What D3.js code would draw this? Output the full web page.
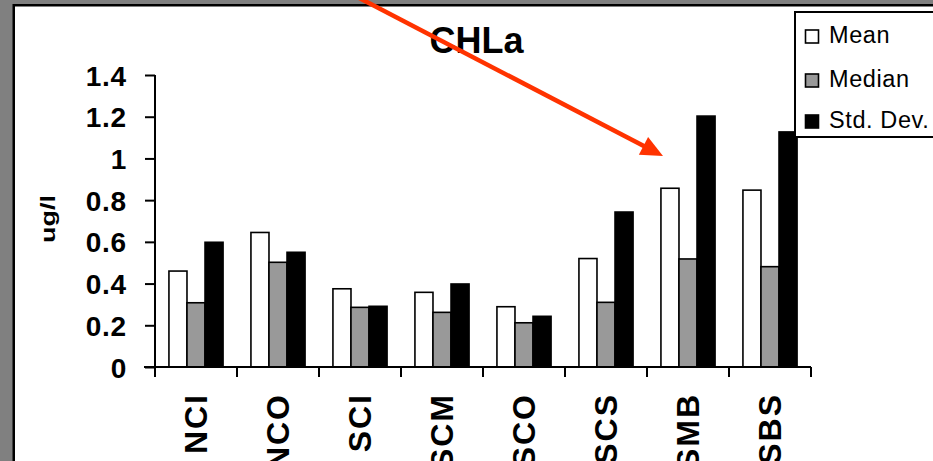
<!DOCTYPE html>
<html><head><meta charset="utf-8">
<script src="https://cdn.jsdelivr.net/npm/d3@7"></script>
<style>html,body{margin:0;padding:0;background:#808080;overflow:hidden}svg{display:block}text{font-family:"Liberation Sans",Arial,sans-serif}</style>
</head><body><svg id="c" width="933" height="461"></svg>
<script>
const categories = ["NCI","NCO","SCI","SCM","SCO","SCS","SMB","SBS"];
const seriesNames = ["Mean","Median","Std. Dev."];
const meanValues = [0.46,0.645,0.375,0.358,0.289,0.52,0.857,0.848];
const medianValues = [0.308,0.502,0.286,0.262,0.212,0.31,0.518,0.481];
const stdValues = [0.598,0.55,0.291,0.398,0.243,0.743,1.203,1.127];
const yTicks = [0,0.2,0.4,0.6,0.8,1,1.2,1.4];
const yTickLabels = ["0","0.2","0.4","0.6","0.8","1","1.2","1.4"];
const colors = ["#ffffff","#999999","#000000"];
const titleText = "CHLa";
const yLabel = "ug/l";

const svg = d3.select("#c");
svg.append("rect").attr("x",0).attr("y",0).attr("width",933).attr("height",461).attr("fill","#808080");
svg.append("rect").attr("x",13.75).attr("y",5.25).attr("width",960).attr("height",480)
  .attr("fill","#fff").attr("stroke","#000").attr("stroke-width",2.5);

const y = d3.scaleLinear().domain([0,1.4]).range([367,75]);
const x0 = d3.scaleBand().domain(categories).range([155,811]).paddingInner(0.34).paddingOuter(0.17);
const x1 = d3.scaleBand().domain(seriesNames).range([0,x0.bandwidth()]);
const series = [meanValues,medianValues,stdValues];

// bars
const g = svg.append("g");
categories.forEach((c,i)=>{
  seriesNames.forEach((s,j)=>{
    const v = series[j][i];
    g.append("rect").attr("x",x0(c)+x1(s)).attr("y",y(v))
      .attr("width",x1.bandwidth()).attr("height",y(0)-y(v))
      .attr("fill",colors[j]).attr("stroke","#000").attr("stroke-width",1.6);
  });
});

// y axis
const yAxis = d3.axisLeft(y).tickValues(yTicks).tickSize(10).tickPadding(18)
  .tickFormat((d,i)=>yTickLabels[i]);
const ya = svg.append("g").attr("transform","translate(155,0)").call(yAxis);
ya.select(".domain").attr("d","M0,75V367").attr("stroke","#000").attr("stroke-width",2);
ya.selectAll(".tick line").attr("stroke","#000").attr("stroke-width",2);
ya.selectAll(".tick text").attr("font-size",28).attr("font-weight","bold").attr("fill","#000")
  .attr("letter-spacing","0.8px").attr("dy","0.36em");

// x axis
const xa = svg.append("g").attr("transform","translate(0,367)");
xa.append("line").attr("x1",144).attr("x2",811).attr("stroke","#000").attr("stroke-width",2);
const boundaries = categories.map((c,i)=>155+x0.step()*i).concat([811]);
boundaries.forEach(b=>{
  xa.append("line").attr("x1",b).attr("x2",b).attr("y1",0).attr("y2",10).attr("stroke","#000").attr("stroke-width",2);
});
categories.forEach(c=>{
  const cx = x0(c)+x0.bandwidth()/2;
  svg.append("text").attr("transform",`translate(${cx+11},393) rotate(-90)`)
    .attr("text-anchor","end").attr("font-size",32).attr("font-weight","bold")
    .attr("letter-spacing","2px").text(c);
});

// title
svg.append("text").attr("x",476.5).attr("y",53).attr("text-anchor","middle")
  .attr("font-size",36).attr("font-weight","bold").text(titleText);

// y label
svg.append("text").attr("transform","translate(55,219) rotate(-90) scale(1.35,1)")
  .attr("text-anchor","middle").attr("font-size",20).attr("font-weight","bold").text(yLabel);

// legend
const lg = svg.append("g");
lg.append("rect").attr("x",795).attr("y",12).attr("width",200).attr("height",125)
  .attr("fill","#fff").attr("stroke","#000").attr("stroke-width",2);
const baselines = [43,87,128];
seriesNames.forEach((s,j)=>{
  lg.append("rect").attr("x",805.5).attr("y",baselines[j]-13).attr("width",13).attr("height",13)
    .attr("fill",colors[j]).attr("stroke","#000").attr("stroke-width",1.6);
  lg.append("text").attr("x",829).attr("y",baselines[j]).attr("font-size",23.5)
    .attr("letter-spacing","0.6px").text(s);
});

// arrow
const ax1=340, ay1=-12, ax2=663, ay2=156;
const ang = Math.atan2(ay2-ay1, ax2-ax1);
const hl = 22, hw = 10;
const bx = ax2 - hl*Math.cos(ang), by = ay2 - hl*Math.sin(ang);
svg.append("line").attr("x1",ax1).attr("y1",ay1).attr("x2",bx+2*Math.cos(ang)).attr("y2",by+2*Math.sin(ang))
  .attr("stroke","#ff3300").attr("stroke-width",4.5);
svg.append("path").attr("d",`M${ax2},${ay2}L${bx - hw*Math.sin(ang)},${by + hw*Math.cos(ang)}L${bx + hw*Math.sin(ang)},${by - hw*Math.cos(ang)}Z`)
  .attr("fill","#ff3300");
</script></body></html>
